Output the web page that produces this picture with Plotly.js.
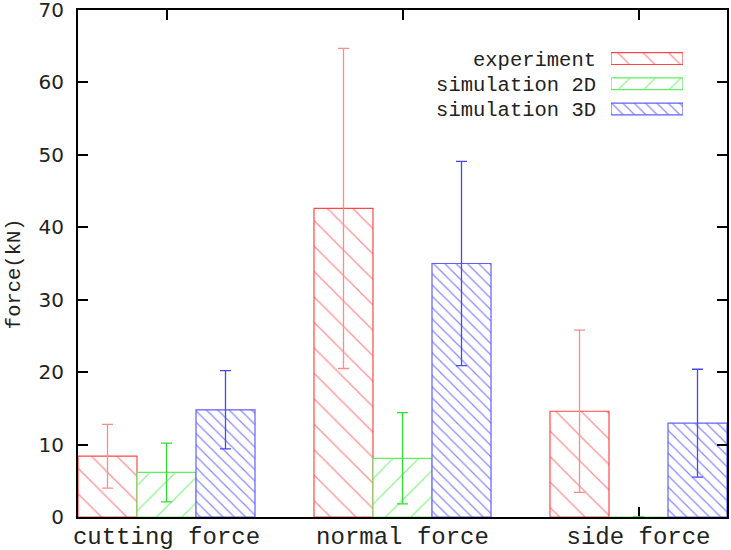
<!DOCTYPE html>
<html>
<head>
<meta charset="utf-8">
<script src="https://cdn.plot.ly/plotly-3.0.1.min.js"></script>
<style>
  html, body { margin: 0; padding: 0; background: #fff; }
  #chart { width: 731px; height: 550px; }
</style>
</head>
<body>
<div id="chart"></div>
<script>
// Force components (kN) and their spread
const categories = ['cutting force', 'normal force', 'side force'];
const seriesNames = ['experiment', 'simulation 2D', 'simulation 3D'];
const experiment = [8.4, 42.6, 14.6];
const experimentErr = [4.4, 22.1, 11.2];
const simulation2D = [6.15, 8.1, 0];
const simulation2DErr = [4.05, 6.3, 0];
const simulation3D = [14.8, 35.0, 12.95];
const simulation3DErr = [5.4, 14.1, 7.45];
const yTicks = [0, 10, 20, 30, 40, 50, 60, 70];

const styles = [
  { line: '#ff4848', fg: '#ff9090', shape: '\\', size: 18, solidity: 0.07, err: '#ff8c8c' },
  { line: '#60f060', fg: '#90f290', shape: '/',  size: 18, solidity: 0.07, err: '#30e030' },
  { line: '#6060ff', fg: '#8888ff', shape: '\\', size: 8,  solidity: 0.15, err: '#4848f0' }
];
const values = [experiment, simulation2D, simulation3D];
const errors = [experimentErr, simulation2DErr, simulation3DErr];

const traces = values.map((v, i) => ({
  type: 'bar',
  name: seriesNames[i],
  x: categories,
  y: v,
  showlegend: false,
  marker: {
    color: 'rgba(255,255,255,1)',
    line: { color: styles[i].line, width: 1.2 },
    pattern: { shape: styles[i].shape, size: styles[i].size, solidity: styles[i].solidity,
               fgcolor: styles[i].fg, bgcolor: 'white', fillmode: 'replace' }
  },
  error_y: {
    type: 'data', array: errors[i], visible: true,
    color: styles[i].err, thickness: 1.3, width: 5.5
  },
  hoverinfo: 'skip'
}));

// Key: one swatch per series on a small inset axis, names as its tick labels
traces.push({
  type: 'bar',
  orientation: 'h',
  xaxis: 'x2',
  yaxis: 'y2',
  y: seriesNames,
  x: seriesNames.map(() => 1),
  width: 0.47,
  offsetgroup: 'key',
  showlegend: false,
  marker: {
    color: 'white',
    line: { color: styles.map(s => s.line), width: 1.2 },
    pattern: {
      shape: styles.map(s => s.shape),
      size: styles.map(s => s.size),
      solidity: styles.map(s => s.solidity),
      fgcolor: styles.map(s => s.fg),
      bgcolor: 'white',
      fillmode: 'replace'
    }
  },
  hoverinfo: 'skip'
});

const mono = 'Liberation Mono, Courier New, monospace';

const layout = {
  width: 731,
  height: 550,
  margin: { l: 78, r: 4, t: 10, b: 33 },
  paper_bgcolor: 'white',
  plot_bgcolor: 'white',
  showlegend: false,
  barmode: 'group',
  bargap: 0.25,
  bargroupgap: 0,
  xaxis: {
    type: 'category',
    range: [-0.375, 2.375],
    showline: true, linecolor: '#000', linewidth: 2, mirror: 'ticks',
    ticks: 'inside', ticklen: 10, tickwidth: 2, tickcolor: '#000',
    tickfont: { family: mono, size: 24, color: '#222' },
    ticklabelstandoff: -4,
    ticklabeloverflow: 'allow',
    showgrid: false, zeroline: false,
    layer: 'below traces'
  },
  yaxis: {
    range: [0, 70],
    tickvals: yTicks,
    ticktext: yTicks.map(String),
    showline: true, linecolor: '#000', linewidth: 2, mirror: 'ticks',
    ticks: 'inside', ticklen: 10, tickwidth: 2, tickcolor: '#000',
    tickfont: { family: 'DejaVu Sans, sans-serif', size: 20, color: '#222' },
    ticklabelstandoff: 8,
    ticklabeloverflow: 'allow',
    showgrid: false, zeroline: false
  },
  xaxis2: {
    domain: [0.8213, 0.9322], anchor: 'y2', range: [0, 1],
    showticklabels: false, showgrid: false, zeroline: false, showline: false, ticks: ''
  },
  yaxis2: {
    domain: [0.780, 0.929], anchor: 'x2', type: 'category', autorange: 'reversed',
    showgrid: false, zeroline: false, showline: false, ticks: '',
    tickfont: { family: mono, size: 20.5, color: '#222' },
    ticklabelstandoff: 14
  },
  annotations: [{
    text: 'force(kN)',
    xref: 'paper', yref: 'paper',
    x: -0.0986, y: 0.479,
    xanchor: 'center', yanchor: 'middle',
    textangle: -90, showarrow: false,
    font: { family: mono, size: 20.5, color: '#222' }
  }]
};

Plotly.newPlot('chart', traces, layout, { staticPlot: true, displayModeBar: false });
</script>
</body>
</html>
